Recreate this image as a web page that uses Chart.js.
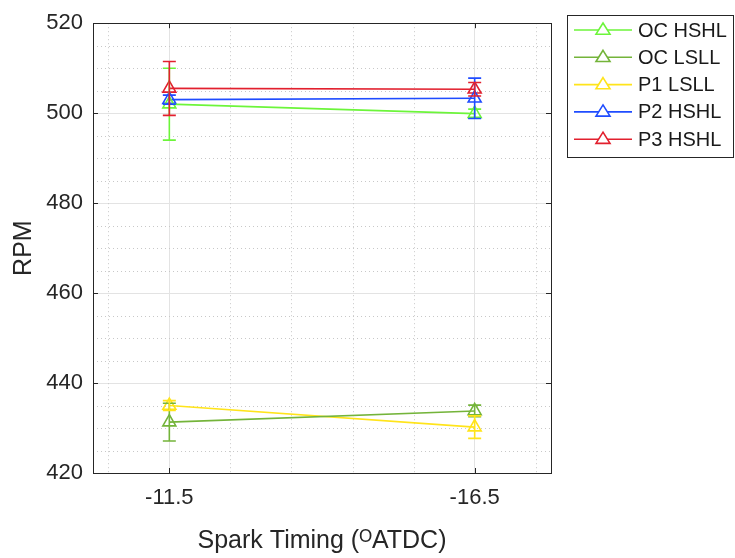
<!DOCTYPE html>
<html><head><meta charset="utf-8">
<script src="https://cdn.jsdelivr.net/npm/chart.js@4/dist/chart.umd.min.js"></script>
<style>html,body{margin:0;padding:0;background:#fff}#wrap{width:735px;height:558px;position:relative}</style>
</head><body><div id="wrap"><canvas id="c" width="735" height="558"></canvas></div>
<script>
const categories = ['-11.5', '-16.5'];
const seriesNames = ['OC HSHL', 'OC LSLL', 'P1 LSLL', 'P2 HSHL', 'P3 HSHL'];
const ocHSHL = [502.0, 499.9];
const ocLSLL = [431.3, 433.8];
const p1LSLL = [435.0, 430.2];
const p2HSHL = [503.0, 503.3];
const p3HSHL = [505.5, 505.3];
const ocHSHLErr = [8.0, 1.0];
const ocLSLLErr = [4.2, 1.3];
const p1LSLLErr = [1.1, 2.5];
const p2HSHLErr = [1.0, 4.5];
const p3HSHLErr = [6.0, 1.5];
const yTicks = [420, 440, 460, 480, 500, 520];
const colors = ['#6cf53a', '#74b43a', '#ffe41a', '#1f4cff', '#e2202e'];

const values = [ocHSHL, ocLSLL, p1LSLL, p2HSHL, p3HSHL];
const errs = [ocHSHLErr, ocLSLLErr, p1LSLLErr, p2HSHLErr, p3HSHLErr];
const FONT = 'Liberation Sans, Arial, Helvetica, sans-serif';

const datasets = seriesNames.map((n, i) => ({
  label: n,
  data: values[i].map((v, j) => ({x: j + 1, y: v})),
  errs: errs[i],
  borderColor: colors[i],
  backgroundColor: 'rgba(255,255,255,0)',
  pointStyle: 'triangle',
  pointRadius: 7.5,
  pointBorderWidth: 1.6,
  borderWidth: 1.6,
  tension: 0
}));

const extras = {
  id: 'extras',
  beforeDatasetsDraw(chart) {
    const {ctx, chartArea: a, scales: {x, y}} = chart;
    ctx.save();
    ctx.strokeStyle = '#c8c8c8';
    ctx.lineWidth = 1;
    ctx.setLineDash([1, 3]);
    for (let v = 0.8; v < 2.25; v += 0.2) {
      if (Math.abs(v - 1) < 1e-6 || Math.abs(v - 2) < 1e-6) continue;
      const px = Math.round(x.getPixelForValue(v)) + 0.5;
      ctx.beginPath(); ctx.moveTo(px, a.top); ctx.lineTo(px, a.bottom); ctx.stroke();
    }
    for (let v = 425; v < 520; v += 5) {
      if (v % 20 === 0) continue;
      const py = Math.round(y.getPixelForValue(v)) + 0.5;
      ctx.beginPath(); ctx.moveTo(a.left, py); ctx.lineTo(a.right, py); ctx.stroke();
    }
    ctx.restore();
  },
  afterDatasetsDraw(chart) {
    const {ctx, chartArea: a, scales: {x, y}} = chart;
    ctx.save();
    chart.data.datasets.forEach(ds => {
      ctx.strokeStyle = ds.borderColor;
      ctx.lineWidth = 1.6;
      ds.data.forEach((p, j) => {
        const e = ds.errs[j];
        const px = x.getPixelForValue(p.x);
        const t = y.getPixelForValue(p.y + e), b = y.getPixelForValue(p.y - e);
        ctx.beginPath();
        ctx.moveTo(px, t); ctx.lineTo(px, b);
        ctx.moveTo(px - 6.5, t); ctx.lineTo(px + 6.5, t);
        ctx.moveTo(px - 6.5, b); ctx.lineTo(px + 6.5, b);
        ctx.stroke();
      });
    });
    // frame
    ctx.strokeStyle = '#262626';
    ctx.lineWidth = 1;
    ctx.strokeRect(Math.round(a.left) + 0.5, Math.round(a.top) + 0.5, Math.round(a.right - a.left), Math.round(a.bottom - a.top));
    // inward ticks
    ctx.beginPath();
    [1, 2].forEach(v => {
      const px = Math.round(x.getPixelForValue(v)) + 0.5;
      ctx.moveTo(px, a.bottom); ctx.lineTo(px, a.bottom - 5);
      ctx.moveTo(px, a.top); ctx.lineTo(px, a.top + 5);
    });
    yTicks.forEach(v => {
      const py = Math.round(y.getPixelForValue(v)) + 0.5;
      ctx.moveTo(a.left, py); ctx.lineTo(a.left + 5, py);
      ctx.moveTo(a.right, py); ctx.lineTo(a.right - 5, py);
    });
    ctx.stroke();
    // legend
    const lx = 567, ly = 15, lw = 166, lh = 142;
    ctx.fillStyle = '#fff';
    ctx.fillRect(lx, ly, lw, lh);
    ctx.strokeStyle = '#262626';
    ctx.strokeRect(lx + 0.5, ly + 0.5, lw, lh);
    ctx.font = '20px ' + FONT;
    ctx.textBaseline = 'middle';
    chart.data.datasets.forEach((ds, i) => {
      const cy = 30 + i * 27.3;
      ctx.strokeStyle = ds.borderColor;
      ctx.lineWidth = 1.6;
      ctx.beginPath(); ctx.moveTo(574, cy); ctx.lineTo(632, cy); ctx.stroke();
      const cx = 603, r = 7;
      ctx.beginPath();
      ctx.moveTo(cx, cy - r); ctx.lineTo(cx + r, cy + r * 0.6); ctx.lineTo(cx - r, cy + r * 0.6); ctx.closePath();
      ctx.fillStyle = '#fff'; ctx.fill(); ctx.stroke();
      ctx.fillStyle = '#1a1a1a';
      ctx.fillText(ds.label, 638, cy + 1);
    });
    ctx.restore();
  }
};

new Chart(document.getElementById('c'), {
  type: 'line',
  data: {datasets},
  plugins: [extras],
  options: {
    responsive: false,
    animation: false,
    layout: {padding: {top: 15, right: 184, bottom: 0, left: 0}},
    plugins: {legend: {display: false}, tooltip: {enabled: false}},
    scales: {
      x: {
        type: 'linear', min: 0.75, max: 2.25,
        afterBuildTicks: s => { s.ticks = [{value: 1}, {value: 2}]; },
        afterFit: s => { s.height = 85; },
        ticks: {callback: v => categories[v - 1], color: '#262626', font: {family: FONT, size: 22}, padding: 12, maxRotation: 0},
        grid: {color: '#e3e3e3', drawTicks: false, lineWidth: 1},
        border: {display: false},
        title: {display: true, text: 'Spark Timing (ᴼATDC)', color: '#262626', font: {family: FONT, size: 25}, padding: {top: 0, bottom: 2}}
      },
      y: {
        min: 420, max: 520,
        afterBuildTicks: s => { s.ticks = yTicks.map(v => ({value: v})); },
        afterFit: s => { s.width = 93; },
        ticks: {color: '#262626', font: {family: FONT, size: 22}, padding: 10},
        grid: {color: '#e3e3e3', drawTicks: false, lineWidth: 1},
        border: {display: false},
        title: {display: true, text: 'RPM', color: '#262626', font: {family: FONT, size: 25}, padding: {top: 9, bottom: 0}}
      }
    }
  }
});
</script></body></html>
